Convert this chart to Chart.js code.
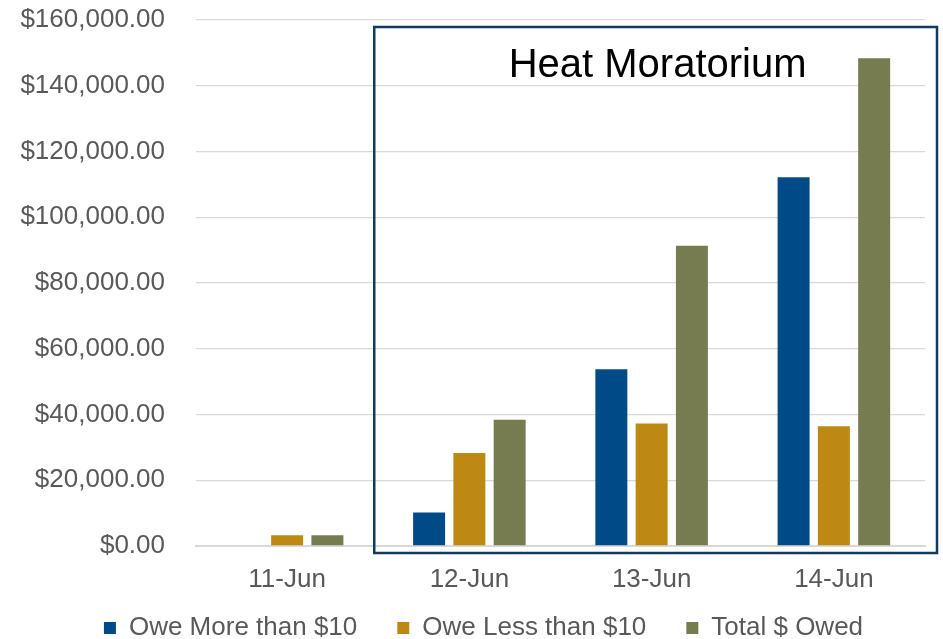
<!DOCTYPE html>
<html lang="en">
<head>
    <meta charset="UTF-8">
    <title>Heat Moratorium - Amounts Owed</title>
    <script src="https://cdn.jsdelivr.net/npm/chart.js@4.4.0/dist/chart.umd.min.js"></script>
    <style>
        body {
            margin: 0;
            padding: 0;
            background: #ffffff;
        }
        #wrap {
            width: 943px;
            height: 639px;
        }
    </style>
</head>
<body>
    <div id="wrap">
        <canvas id="owedChart" width="943" height="639"></canvas>
    </div>

    <script>
        // chart data
        const days = ['11-Jun', '12-Jun', '13-Jun', '14-Jun'];
        const oweMore = [0, 10200, 53800, 112200];
        const oweLess = [3250, 28300, 37300, 36400];
        const totalOwed = [3250, 38400, 91300, 148400];
        const seriesNames = ['Owe More than $10', 'Owe Less than $10', 'Total $ Owed'];
        const yMax = 160000;
        const yStep = 20000;
        const boxTitle = 'Heat Moratorium';

        const FONT = "'Liberation Sans', Arial, sans-serif";

        // legend: keep the wide gap between items but a short box,
        // then nudge where it is drawn
        const legendTweak = {
            id: 'legendTweak',
            afterInit(chart) {
                const lg = chart.legend;
                const fit = lg.fit;
                const draw = lg.draw;
                lg.fit = function () {
                    fit.call(this);
                    this.height = 47;
                };
                lg.draw = function () {
                    const t = this.top, l = this.left;
                    this.top = t - 17;
                    this.left = l + 22;
                    draw.call(this);
                    this.top = t;
                    this.left = l;
                };
            }
        };

        // framed "Heat Moratorium" region over 12-Jun .. 14-Jun
        const moratoriumBox = {
            id: 'moratoriumBox',
            afterDatasetsDraw(chart) {
                const { ctx, chartArea, scales } = chart;
                const left = (scales.x.getPixelForValue(0) + scales.x.getPixelForValue(1)) / 2 - 4;
                const right = chartArea.right + 12;
                const top = chartArea.top + 7;
                const bottom = chartArea.bottom + 7;
                ctx.save();
                ctx.strokeStyle = '#0f3a63';
                ctx.lineWidth = 2.5;
                ctx.strokeRect(left, top, right - left, bottom - top);
                ctx.fillStyle = '#000000';
                ctx.font = '40px ' + FONT;
                ctx.textAlign = 'center';
                ctx.textBaseline = 'alphabetic';
                ctx.fillText(boxTitle, (left + right) / 2 + 2, top + 50);
                ctx.restore();
            }
        };

        const ctx = document.getElementById('owedChart').getContext('2d');
        new Chart(ctx, {
            type: 'bar',
            data: {
                labels: days,
                datasets: [
                    { label: seriesNames[0], data: oweMore, backgroundColor: '#004b87' },
                    { label: seriesNames[1], data: oweLess, backgroundColor: '#bd8912' },
                    { label: seriesNames[2], data: totalOwed, backgroundColor: '#767c50' }
                ]
            },
            options: {
                responsive: false,
                animation: false,
                devicePixelRatio: 1,
                categoryPercentage: 0.663,
                barPercentage: 0.794,
                layout: {
                    padding: { left: 20, right: 18, top: 20, bottom: 0 }
                },
                scales: {
                    x: {
                        grid: { display: false, drawTicks: false },
                        border: { display: true, color: '#d9d9d9', width: 2 },
                        ticks: {
                            color: '#595959',
                            padding: 18,
                            font: { family: FONT, size: 26 }
                        },
                        afterFit(scale) { scale.height = 46; }
                    },
                    y: {
                        min: 0,
                        max: yMax,
                        grid: { color: '#d9d9d9', lineWidth: 1.3, drawTicks: false },
                        border: { display: false },
                        ticks: {
                            stepSize: yStep,
                            color: '#595959',
                            padding: 31,
                            font: { family: FONT, size: 26 },
                            callback: v => '$' + v.toLocaleString('en-US', { minimumFractionDigits: 2, maximumFractionDigits: 2 })
                        },
                        afterFit(scale) {
                            scale.width = 176;
                            scale.paddingTop = 0;
                            scale.paddingBottom = 0;
                        }
                    }
                },
                plugins: {
                    legend: {
                        position: 'bottom',
                        labels: {
                            boxWidth: 12,
                            boxHeight: 12,
                            padding: 40,
                            color: '#595959',
                            font: { family: FONT, size: 26 }
                        }
                    },
                    tooltip: { enabled: false }
                }
            },
            plugins: [legendTweak, moratoriumBox]
        });
    </script>
</body>
</html>
